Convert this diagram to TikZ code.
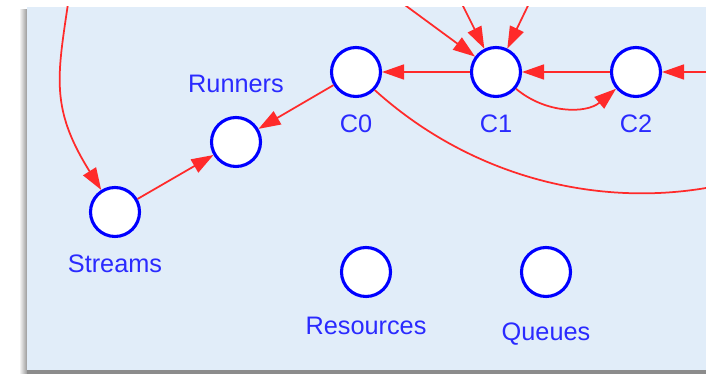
\documentclass[tikz,border=0pt]{standalone}
\usepackage{fontspec}
\setmainfont{Liberation Sans}
\usepackage{xcolor}
\usetikzlibrary{positioning}
\usetikzlibrary{arrows.meta}
\definecolor{panelblue}{HTML}{E1EDF9}
\definecolor{ringblue}{HTML}{0000FF}
\definecolor{textblue}{HTML}{2A2AFF}
\definecolor{edgered}{HTML}{FF2A2A}
\tikzset{
    state/.style={circle, draw=ringblue, fill=white, line width=0.062cm, minimum size=0.98cm, inner sep=0pt},
    statelabel/.style={anchor=base, inner sep=0pt, text=textblue, font=\fontsize{14.4}{16}\selectfont},
    edge/.style={draw=edgered, line width=0.035cm, -{Triangle[length=0.44cm, width=0.3cm]}}
}
\newcommand{\labelledstate}[5]{ % Takes node name, x coord, y coord, label baseline offset, label text as arguments
    \node [state] (#1) at (#2, #3) {};
    \node [statelabel] (#1l) at (#2, #3+#4) {#5};
}

\begin{document}
\begin{tikzpicture}[x=0.02cm, y=-0.02cm]
    \useasboundingbox (0,0) rectangle (706,374);

    % Panel with its shadow
    \shade[left color=white, right color=black!40] (19,10) rectangle (27,374);
    \fill[black!45] (27,370) rectangle (706,374);
    \fill[panelblue] (27,7) rectangle (706,370);
    \clip (27,7) rectangle (706,370);

    % States
    \labelledstate{streams}{115}{212}{61}{Streams}
    \labelledstate{runners}{236}{142}{-49}{Runners}
    \labelledstate{c0}{356}{72}{61}{C0}
    \labelledstate{c1}{496}{72}{61}{C1}
    \labelledstate{c2}{636}{72}{61}{C2}
    \labelledstate{resources}{366}{272}{63}{Resources}
    \labelledstate{queues}{546}{272}{69}{Queues}

    % Ends outside the panel
    \coordinate (topleft) at (74,-40);
    \coordinate (topa) at (330,-50);
    \coordinate (topb) at (440,-40);
    \coordinate (topc) at (550,-40);
    \coordinate (rightin) at (780,72);
    \coordinate (farright) at (916,72);

    % Transitions
    \draw[edge] (topleft) to[out=263, in=122, looseness=1.2] (streams);
    \draw[edge] (streams) -- (runners);
    \draw[edge] (c0) -- (runners);
    \draw[edge] (c1) -- (c0);
    \draw[edge] (c2) -- (c1);
    \draw[edge] (rightin) -- (c2);
    \draw[edge] (c1) to[bend right=40] (c2);
    \draw[edge] (c0) to[bend right=44] (farright);
    \draw[edge] (topa) -- (c1);
    \draw[edge] (topb) -- (c1);
    \draw[edge] (topc) -- (c1);
\end{tikzpicture}
\end{document}
